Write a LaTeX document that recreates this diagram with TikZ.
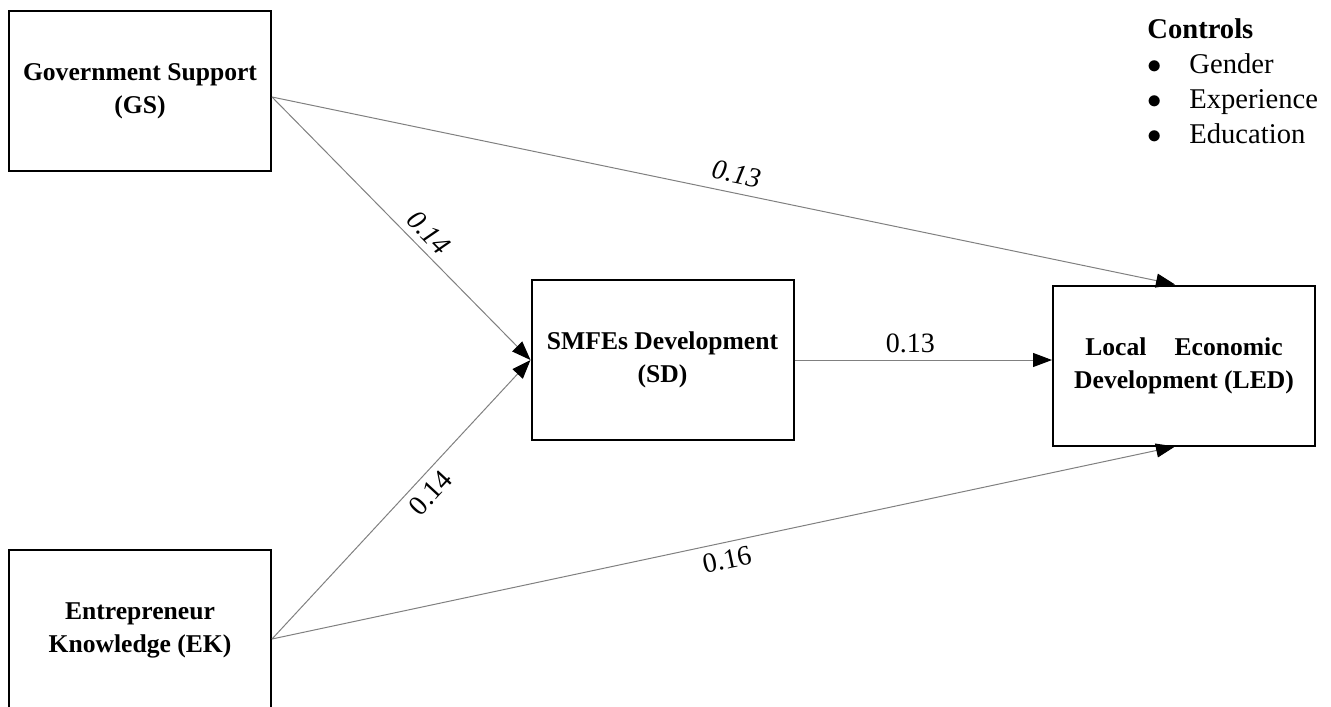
\documentclass[tikz,border=0pt]{standalone}
\usepackage{fontspec}
\setmainfont{Liberation Serif}
\usetikzlibrary{arrows.meta,positioning}

\begin{document}
\begin{tikzpicture}[x=0.5pt,y=-0.5pt,
    box/.style={draw,line width=1pt,minimum width=131pt,minimum height=80pt,
      align=center,inner sep=0pt,font=\fontsize{12.8}{16.5}\selectfont\bfseries},
    link/.style={draw=black!50,line width=0.5pt,
      -{Triangle[length=9.5pt,width=7pt,color=black]}},
    coef/.style={sloped,inner sep=3.5pt,font=\fontsize{14}{16}\selectfont}]
  \clip (0,0) rectangle (1331,706);
  \node[box] (GS) at (140,91) {Government Support\\(GS)};
  \node[box] (EK) at (140,630) {Entrepreneur\\Knowledge (EK)};
  \node[box] (SD) at (662.5,360) {SMFEs Development\\(SD)};
  \node[box] (LED) at (1184,365.5) {Local\hspace{1.1em}Economic\\Development (LED)};
  \coordinate (gsout) at ([yshift=-3pt]GS.east);
  \coordinate (ekout) at ([yshift=-4.5pt]EK.east);
  \coordinate (ledtop) at ([xshift=-4.5pt]LED.north);
  \coordinate (ledbot) at ([xshift=-4.5pt]LED.south);
  \draw[link] (gsout) -- node[coef,above,pos=0.56] {\textit{0.14}} (SD.west);
  \draw[link] (gsout) -- node[coef,above=1pt,pos=0.51] {\textit{0.13}} (ledtop);
  \draw[link] (ekout) -- node[coef,below,pos=0.565] {0.14} (SD.west);
  \draw[link] (ekout) -- node[coef,below,pos=0.5] {0.16} (ledbot);
  \draw[link] (SD.east) -- node[coef,above,pos=0.45] {0.13} (SD.east -| LED.west);
  \node[anchor=base west,align=left,inner sep=0pt,font=\fontsize{14.3}{17.5}\selectfont] (ctrl) at (1147,143)
    {\textbf{Controls}\\
     \makebox[21pt][l]{$\bullet$}Gender\\
     \makebox[21pt][l]{$\bullet$}Experience\\
     \makebox[21pt][l]{$\bullet$}Education};
\end{tikzpicture}
\end{document}
